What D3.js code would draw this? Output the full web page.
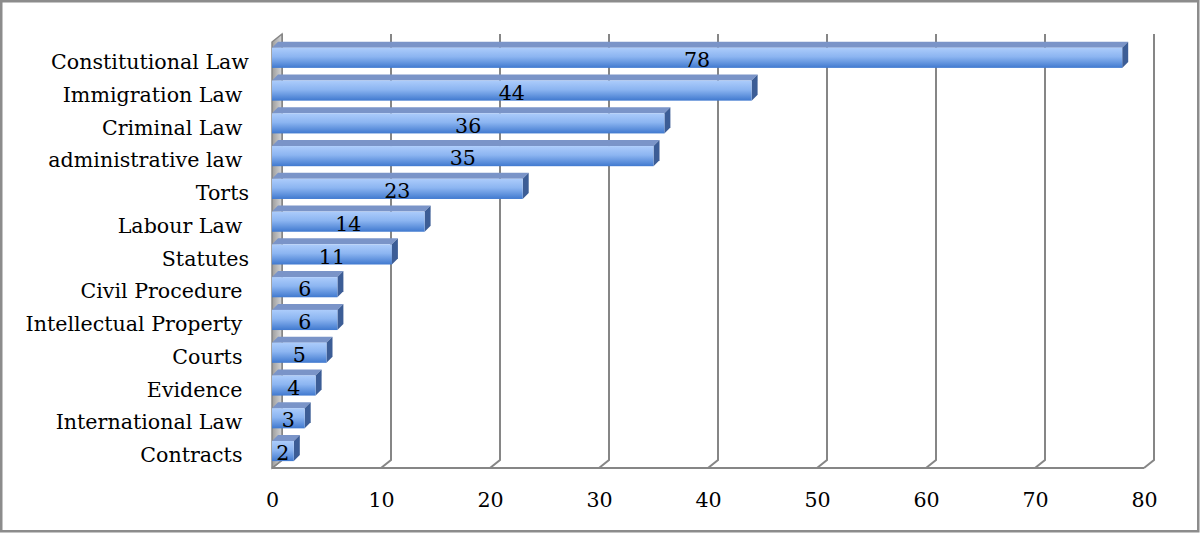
<!DOCTYPE html>
<html>
<head>
<meta charset="utf-8">
<script src="https://cdn.jsdelivr.net/npm/d3@7"></script>
<style>
  body { margin: 0; background: #fff; }
  text { font-family: "DejaVu Serif", serif; fill: #000; white-space: pre; }
</style>
</head>
<body>
<div id="main"></div>
<script>
var categories = ['Constitutional Law', 'Immigration Law ', 'Criminal Law ', 'administrative law ',
    'Torts', 'Labour Law ', 'Statutes', 'Civil Procedure ', 'Intellectual Property ',
    'Courts ', 'Evidence ', 'International Law ', 'Contracts '];
var values = [78, 44, 36, 35, 23, 14, 11, 6, 6, 5, 4, 3, 2];
var xTicks = [0, 10, 20, 30, 40, 50, 60, 70, 80];

var width = 1200, height = 533;
var svg = d3.select('#main').append('svg')
    .attr('width', width)
    .attr('height', height);

// depth offsets for the fake 3d look
var wallDx = 10, wallDy = -8;
var barDx = 6, barDy = -6;
var fontSize = '20.6px';

var xScale = d3.scaleLinear().domain([0, 80]).range([272, 1144]);
var yScale = d3.scaleBand().domain(categories).range([42, 468]);
var floorY = 468;

var defs = svg.append('defs');
var grad = defs.append('linearGradient')
    .attr('id', 'barFront')
    .attr('x1', 0).attr('y1', 0).attr('x2', 0).attr('y2', 1);
grad.append('stop').attr('offset', '0%').attr('stop-color', '#acccfb');
grad.append('stop').attr('offset', '45%').attr('stop-color', '#8cb5f1');
grad.append('stop').attr('offset', '100%').attr('stop-color', '#4079cf');

var wallGrad = defs.append('linearGradient')
    .attr('id', 'wallGrad')
    .attr('x1', 0).attr('y1', 0).attr('x2', 1).attr('y2', 0);
wallGrad.append('stop').attr('offset', '0%').attr('stop-color', '#9c9c9c');
wallGrad.append('stop').attr('offset', '100%').attr('stop-color', '#d6d6d6');

// outer frame
svg.append('rect')
    .attr('x', 1.25).attr('y', 1.25)
    .attr('width', width - 3).attr('height', height - 3)
    .attr('fill', '#fff')
    .attr('stroke', '#8c8c8c')
    .attr('stroke-width', 2.5);

var yTop = yScale.range()[0] + wallDy;

// back wall gridlines + floor diagonals
var grid = svg.append('g');
grid.selectAll('path')
    .data(xTicks)
    .enter()
    .append('path')
    .attr('d', function(d) {
        var x = xScale(d);
        return 'M' + (x + wallDx) + ',' + yTop +
            'L' + (x + wallDx) + ',' + (floorY + wallDy) +
            'L' + x + ',' + floorY;
    })
    .attr('fill', 'none')
    .attr('stroke', '#868686')
    .attr('stroke-width', 2);

// floor front edge
svg.append('line')
    .attr('x1', xScale(0)).attr('x2', xScale(80))
    .attr('y1', floorY).attr('y2', floorY)
    .attr('stroke', '#868686')
    .attr('stroke-width', 2);

// left side wall
var x0 = xScale(0);
svg.append('polygon')
    .attr('points', [
        [x0, yScale.range()[0]],
        [x0 + wallDx, yTop],
        [x0 + wallDx, floorY + wallDy],
        [x0, floorY]
    ].join(' '))
    .attr('fill', 'url(#wallGrad)')
    .attr('stroke', '#868686')
    .attr('stroke-width', 1.5);

// bars
var bw = yScale.bandwidth();
var bars = svg.append('g').selectAll('g')
    .data(values)
    .enter()
    .append('g');

function faceTop(i) { return yScale(categories[i]) + bw * 0.175; }
function faceBot(i) { return yScale(categories[i]) + bw * 0.79; }

bars.append('polygon')
    .attr('points', function(d, i) {
        var xe = xScale(d), t = faceTop(i);
        return [[x0, t], [xe, t], [xe + barDx, t + barDy], [x0 + barDx, t + barDy]].join(' ');
    })
    .attr('fill', '#7a94c8');

bars.append('polygon')
    .attr('points', function(d, i) {
        var xe = xScale(d), t = faceTop(i), b = faceBot(i);
        return [[xe, t], [xe + barDx, t + barDy], [xe + barDx, b + barDy], [xe, b]].join(' ');
    })
    .attr('fill', '#3c5d96');

bars.append('rect')
    .attr('x', x0)
    .attr('y', function(d, i) { return faceTop(i); })
    .attr('width', function(d) { return xScale(d) - x0; })
    .attr('height', function(d, i) { return faceBot(i) - faceTop(i); })
    .attr('fill', 'url(#barFront)');

bars.append('text')
    .attr('x', function(d) { return (x0 + xScale(d)) / 2; })
    .attr('y', function(d, i) { return yScale(categories[i]) + 25; })
    .attr('text-anchor', 'middle')
    .style('font-size', fontSize)
    .text(function(d) { return d; });

// axes
var xAxis = svg.append('g')
    .attr('transform', 'translate(0,' + floorY + ')')
    .call(d3.axisBottom(xScale).tickValues(xTicks).tickSize(0).tickPadding(24));
xAxis.select('.domain').remove();
xAxis.selectAll('text').style('font-size', fontSize).attr('font-family', null);

var yAxis = svg.append('g')
    .attr('transform', 'translate(' + x0 + ',4)')
    .call(d3.axisLeft(yScale).tickSize(0).tickPadding(23));
yAxis.select('.domain').remove();
yAxis.selectAll('text').style('font-size', fontSize).attr('font-family', null);
</script>
</body>
</html>
